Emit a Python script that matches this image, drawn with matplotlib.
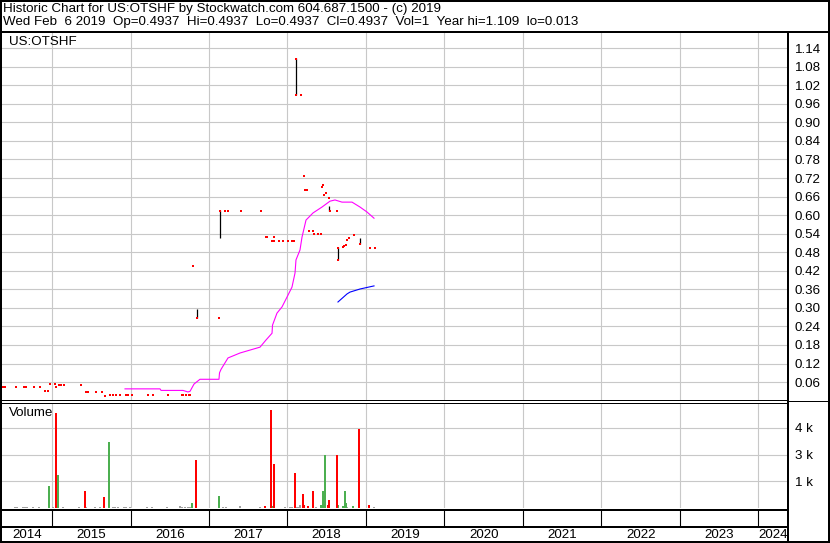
import matplotlib
matplotlib.use("Agg")
import matplotlib.pyplot as plt
from matplotlib.lines import Line2D

plt.rcParams['font.family'] = ['Liberation Sans', 'DejaVu Sans']

# weekly closes (decimal year, price)
close_dates = [2014.363, 2014.382, 2014.401, 2014.541, 2014.643, 2014.669, 2014.771, 2014.847,
               2014.917, 2014.949, 2014.971, 2015.034, 2015.057, 2015.089, 2015.115, 2015.159,
               2015.367, 2015.433, 2015.459, 2015.558, 2015.634, 2015.673, 2015.739, 2015.783,
               2015.809, 2015.866, 2015.943, 2015.968, 2016.019, 2016.223, 2016.287, 2016.478,
               2016.650, 2016.675, 2016.713, 2016.739, 2016.758, 2016.792, 2016.847, 2017.125,
               2017.140, 2017.204, 2017.238, 2017.404, 2017.659, 2017.726, 2017.745, 2017.828,
               2017.803, 2017.834, 2017.892, 2017.946, 2018.003, 2018.057, 2018.083, 2018.108,
               2018.108, 2018.172, 2018.210, 2018.229, 2018.248, 2018.274, 2018.325, 2018.338,
               2018.385, 2018.427, 2018.439, 2018.452, 2018.459, 2018.487, 2018.529, 2018.541,
               2018.631, 2018.643, 2018.643, 2018.707, 2018.720, 2018.741, 2018.758, 2018.780,
               2018.843, 2018.924, 2019.051, 2019.115]
close_vals = [0.045, 0.045, 0.045, 0.045, 0.045, 0.045, 0.045, 0.045,
              0.032, 0.032, 0.0535, 0.0535, 0.045, 0.051, 0.051, 0.051,
              0.051, 0.0286, 0.0286, 0.0286, 0.0286, 0.0157, 0.019, 0.019,
              0.019, 0.019, 0.019, 0.019, 0.019, 0.019, 0.019, 0.019,
              0.019, 0.019, 0.019, 0.019, 0.019, 0.437, 0.266, 0.267,
              0.614, 0.614, 0.614, 0.614, 0.614, 0.53, 0.53, 0.53,
              0.517, 0.517, 0.517, 0.517, 0.517, 0.517, 0.517, 1.105,
              0.988, 0.988, 0.726, 0.681, 0.681, 0.549, 0.549, 0.539,
              0.539, 0.539, 0.692, 0.697, 0.665, 0.672, 0.656, 0.614,
              0.614, 0.494, 0.455, 0.497, 0.501, 0.504, 0.519, 0.526,
              0.536, 0.506, 0.494, 0.494]

# weekly high-low ranges
range_dates = [2016.847, 2017.135, 2018.106, 2018.535, 2018.640, 2018.918]
range_lo = [0.266, 0.526, 0.988, 0.614, 0.455, 0.506]
range_hi = [0.296, 0.616, 1.109, 0.630, 0.497, 0.525]

# moving averages
ma1_dates = [2015.930, 2016.376, 2016.389, 2016.669, 2016.732, 2016.758, 2016.809, 2016.860,
             2016.885, 2017.127, 2017.134, 2017.153, 2017.242, 2017.395, 2017.650, 2017.726,
             2017.803, 2017.809, 2017.866, 2017.930, 2017.994, 2018.057, 2018.096, 2018.108,
             2018.159, 2018.185, 2018.236, 2018.325, 2018.439, 2018.541, 2018.605, 2018.694,
             2018.822, 2018.924, 2019.013, 2019.102]
ma1_vals = [0.038, 0.038, 0.033, 0.033, 0.028, 0.030, 0.0535, 0.064,
            0.069, 0.069, 0.090, 0.101, 0.138, 0.154, 0.173, 0.196,
            0.218, 0.244, 0.283, 0.303, 0.335, 0.367, 0.413, 0.455,
            0.487, 0.529, 0.584, 0.607, 0.626, 0.645, 0.649, 0.642,
            0.642, 0.626, 0.610, 0.590]
ma2_dates = [2018.643, 2018.758, 2018.796, 2018.924, 2019.102]
ma2_vals = [0.319, 0.345, 0.351, 0.361, 0.371]

# volume
red_dates = [2014.911, 2015.047, 2015.420, 2015.659, 2016.834, 2017.713, 2017.786, 2017.828,
             2018.096, 2018.197, 2018.214, 2018.261, 2018.325, 2018.516, 2018.529, 2018.631,
             2018.911, 2019.038]
red_vols = [20, 4770, 850, 550, 2400, 80, 4900, 2200,
            1750, 700, 150, 100, 850, 150, 400, 2650,
            3950, 150]
green_dates = [2014.350, 2014.962, 2015.076, 2015.726, 2016.783, 2017.127, 2017.799, 2018.427,
               2018.452, 2018.478, 2018.643, 2018.703, 2018.729, 2018.741, 2018.831]
green_vols = [400, 1100, 1650, 3300, 250, 600, 100, 150,
              850, 2650, 150, 100, 850, 250, 80]
gray_dates = [2014.529, 2014.554, 2014.631, 2014.656, 2014.682, 2014.758, 2014.834, 2015.013,
              2015.140, 2015.344, 2015.433, 2015.548, 2015.611, 2015.777, 2015.803, 2015.841,
              2015.917, 2015.943, 2015.994, 2016.210, 2016.274, 2016.465, 2016.631, 2016.656,
              2016.694, 2016.732, 2016.758, 2017.178, 2017.217, 2017.395, 2017.650, 2017.968,
              2018.032, 2018.057, 2018.121, 2018.146, 2018.159, 2018.363, 2018.758, 2019.102]
gray_vols = [60, 60, 60, 60, 60, 60, 60, 60,
             60, 60, 60, 60, 60, 60, 60, 60,
             60, 60, 60, 60, 60, 60, 120, 60,
             60, 60, 60, 60, 60, 120, 60, 60,
             60, 60, 60, 60, 150, 60, 60, 60]

price_ticks = [0.06, 0.12, 0.18, 0.24, 0.30, 0.36, 0.42, 0.48, 0.54, 0.60,
               0.66, 0.72, 0.78, 0.84, 0.90, 0.96, 1.02, 1.08, 1.14]
vol_ticks = [1333, 2667, 4000]
vol_labels = ['1 k', '3 k', '4 k']
years = list(range(2014, 2025))

line1 = "Historic Chart for US:OTSHF by Stockwatch.com 604.687.1500 - (c) 2019"
line2 = ("Wed Feb  6 2019  Op=0.4937  Hi=0.4937  Lo=0.4937  Cl=0.4937  "
         "Vol=1  Year hi=1.109  lo=0.013")

W, H = 830, 543
fig = plt.figure(figsize=(W / 100, H / 100), dpi=100)


def fx(px):
    return px / W


def fy(py):
    return 1 - py / H


X0, X1 = 2014.363, 2024.376
GRID = '#c8c8c8'
FS = 9.6

ax = fig.add_axes([fx(2), fy(400), fx(786), (400 - 33) / H])
axv = fig.add_axes([fx(2), fy(508), fx(786), (508 - 403) / H])
axd = fig.add_axes([fx(2), 0, fx(786), 34 / H])

# price panel
ax.plot(ma1_dates, ma1_vals, color='#ff00ff', lw=0.8)
ax.plot(ma2_dates, ma2_vals, color='#0000ff', lw=0.8)
ax.vlines(range_dates, range_lo, range_hi, color='black', lw=0.9)
ax.plot(close_dates, close_vals, 's', color='red', ms=2.1, mew=0, ls='none')
ax.set_xlim(X0, X1)
ax.set_ylim(0.002, 1.189)
ax.set_xticks(years[1:])
ax.set_xticklabels([])
ax.set_yticks(price_ticks)
ax.set_yticklabels([f"{t:.2f}" for t in price_ticks])
ax.yaxis.tick_right()
ax.tick_params(length=0, labelsize=FS, pad=5)
ax.grid(True, color=GRID, lw=0.8)
ax.set_axisbelow(True)
for s in ax.spines.values():
    s.set_visible(False)

# volume panel
axv.bar(gray_dates, gray_vols, width=0.03, color='#a0a0a0', lw=0)
axv.bar(green_dates, green_vols, width=0.03, color='#4caf50', lw=0)
axv.bar(red_dates, red_vols, width=0.03, color='#ff0000', lw=0)
axv.set_xlim(X0, X1)
axv.set_ylim(0, 5250)
axv.set_xticks(years[1:])
axv.set_xticklabels([])
axv.set_yticks(vol_ticks)
axv.set_yticklabels(vol_labels)
axv.yaxis.tick_right()
axv.tick_params(length=0, labelsize=FS, pad=5)
axv.grid(True, color=GRID, lw=0.8)
axv.set_axisbelow(True)
for s in axv.spines.values():
    s.set_visible(False)

# date band
axd.set_xlim(X0, X1)
axd.set_ylim(543, 509)
axd.axis('off')
axd.vlines(years[1:], 510, 527, color='black', lw=0.8)
for i, y in enumerate(years):
    left = max(y, X0)
    right = min(y + 1, X1)
    axd.text((left + right) / 2, 535.5, str(y), ha='center', va='center', fontsize=FS)

fig.text(fx(9), fy(42), "US:OTSHF", fontsize=FS, va='center')
fig.text(fx(9), fy(413), "Volume", fontsize=FS, va='center')
fig.text(fx(3), fy(9), line1, fontsize=FS, va='center')
fig.text(fx(3), fy(22), line2, fontsize=FS, va='center')


def hline(y, x0, x1, lw=1.44):
    fig.add_artist(Line2D([fx(x0), fx(x1)], [fy(y), fy(y)], color='black', lw=lw,
                          transform=fig.transFigure))


def vline(x, y0, y1, lw=1.44):
    fig.add_artist(Line2D([fx(x), fx(x)], [fy(y0), fy(y1)], color='black', lw=lw,
                          transform=fig.transFigure))


hline(1, 0, W)
hline(542, 0, W)
vline(1, 0, H)
vline(829, 0, H)
hline(32, 0, W)
vline(788, 32, H)
hline(400, 0, 788, 0.72)
hline(402.5, 0, 788, 0.72)
hline(400.5, 788, W, 0.72)
hline(510, 0, 788)
hline(527, 0, 788)

fig.savefig("out.png", dpi=100)
